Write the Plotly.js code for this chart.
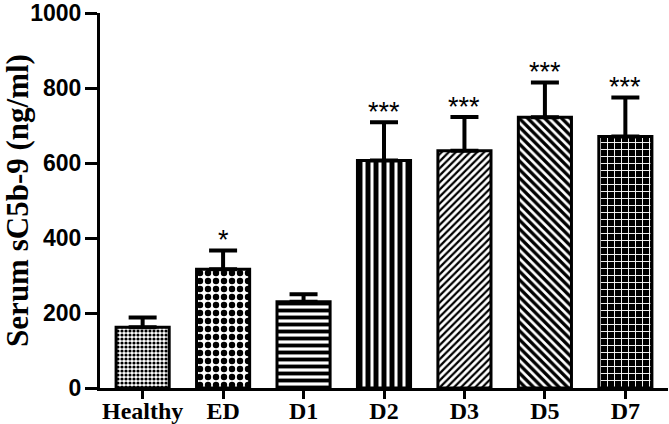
<!DOCTYPE html>
<html><head><meta charset="utf-8">
<script src="https://cdn.plot.ly/plotly-3.0.1.min.js"></script>
<style>html,body{margin:0;padding:0;background:#fff}#c{width:669px;height:424px}</style>
</head><body><div id="c"></div>
<script>
const categories = ["Healthy","ED","D1","D2","D3","D5","D7"];
const means = [162, 317, 230, 607, 633, 722, 671];
const errUpper = [26, 50, 20, 102, 90, 93, 104];
const significance = ["", "*", "", "***", "***", "***", "***"];

const shapes = [".", ".", "-", "|", "/", "\\", "+"];
const fg = ["#000","#000","#000","#000","#000","#000","#fff"];
const bg = ["#fff","#fff","#fff","#fff","#fff","#fff","#000"];
const psize = [4, 8, 7, 8, 5, 6, 7];
const psol = [0.5, 0.5, 0.55, 0.62, 0.45, 0.55, 0.25];

const trace = {
  type: "bar",
  x: categories,
  y: means,
  width: 0.66,
  marker: {
    color: "#fff",
    line: {color: "#000", width: 3},
    pattern: {shape: shapes, fgcolor: fg, bgcolor: bg, size: psize, solidity: psol, fgopacity: 1}
  },
  error_y: {type: "data", symmetric: false, array: errUpper, arrayminus: means.map(() => 0),
            color: "#000", thickness: 4, width: 14},
  hoverinfo: "none"
};

const annotations = categories.map((c, i) => ({
  x: c, y: means[i] + errUpper[i], text: significance[i], showarrow: false,
  xref: "x", yref: "y", yanchor: "bottom", yshift: -7,
  font: {family: "Liberation Sans, Arial, sans-serif", size: 27, color: "#000"}
})).filter(a => a.text);

const layout = {
  width: 669, height: 424,
  margin: {l: 100, r: 1, t: 13, b: 36},
  paper_bgcolor: "#fff", plot_bgcolor: "#fff",
  showlegend: false,
  xaxis: {
    type: "category", range: [-0.53, 6.53],
    showline: true, linecolor: "#000", linewidth: 3,
    ticks: "outside", ticklen: 8, tickwidth: 3, tickcolor: "#000",
    ticklabelstandoff: -9,
    showgrid: false, zeroline: false,
    tickfont: {family: "Liberation Serif, Times New Roman, serif", size: 24, color: "#000", weight: "bold"}
  },
  yaxis: {
    range: [0, 1000], tickvals: [0,200,400,600,800,1000],
    showline: true, linecolor: "#000", linewidth: 3,
    ticks: "outside", ticklen: 12, tickwidth: 3, tickcolor: "#000",
    ticklabelstandoff: -1,
    showgrid: false, zeroline: false,
    tickfont: {family: "Liberation Sans, Arial, sans-serif", size: 23, color: "#000", weight: "bold"},
    title: {text: "Serum sC5b-9 (ng/ml)", standoff: 6,
            font: {family: "Liberation Serif, Times New Roman, serif", size: 31, color: "#000", weight: "bold"}}
  },
  annotations: annotations
};

Plotly.newPlot("c", [trace], layout, {displayModeBar: false, staticPlot: true});
</script></body></html>
